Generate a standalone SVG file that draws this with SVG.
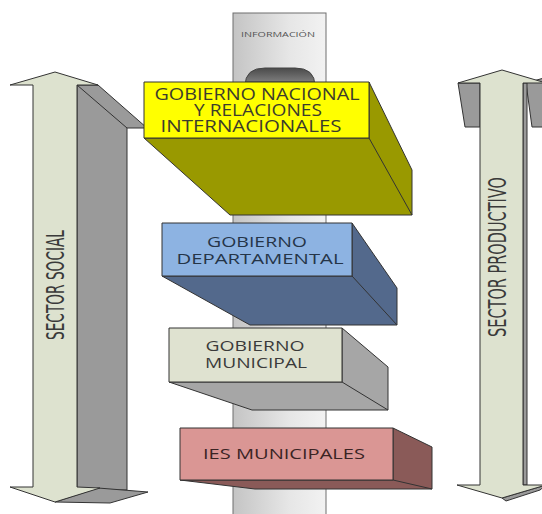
<svg xmlns="http://www.w3.org/2000/svg" width="542" height="514" viewBox="0 0 542 514">
<defs>
<linearGradient id="pole" x1="0" y1="0" x2="1" y2="0">
<stop offset="0" stop-color="#c4c4c4"/><stop offset="0.6" stop-color="#e6e6e6"/><stop offset="1" stop-color="#f2f2f2"/>
</linearGradient>
<linearGradient id="slot" x1="0" y1="0" x2="0" y2="1">
<stop offset="0" stop-color="#4a4a4a"/><stop offset="1" stop-color="#8c8c8c"/>
</linearGradient>
<style>
.edge{stroke:#333;stroke-width:1;stroke-linejoin:round}
.front{fill:#dde2cf}
.gray{fill:#9a9a9a}
.lbl{font-family:"Open Sans","DejaVu Sans",sans-serif;text-anchor:middle}
.sec{font-family:"DejaVu Sans",sans-serif;fill:#3a3a3a;text-anchor:middle}
</style>
</defs>
<rect width="542" height="514" fill="#ffffff"/>

<g id="pole-info">
<rect x="233" y="13" width="93" height="510" fill="url(#pole)" stroke="#6e6e6e" stroke-width="1"/>
<text x="278" y="37" class="lbl" font-size="8" fill="#555" textLength="74" lengthAdjust="spacingAndGlyphs">INFORMACIÓN</text>
<path d="M245,82 L245,86 Q245,68 265,68 L295,68 Q315,68 315,86 L315,82 Z" fill="url(#slot)" stroke="#444" stroke-width="1"/>
</g>

<g id="sector-social">
<polygon class="gray edge" points="77,85 98,85 147,128 127,128 127,490 77,490"/>
<line class="edge" x1="77" y1="85" x2="127" y2="128"/>
<polygon class="gray edge" points="98,488 148,492 110,503 55,502"/>
<polygon class="front edge" points="55,72 98,85 77,85 77,487 100,488 55,502 10,487 33,487 33,85 10,85"/>
<text class="sec" font-size="25" transform="translate(64,285) rotate(-90)" textLength="110" lengthAdjust="spacingAndGlyphs">SECTOR SOCIAL</text>
</g>

<g id="sector-productivo">
<polygon class="gray edge" points="458,83 480,83 480,127 465,127"/>
<polygon class="gray edge" points="526,83 544,78 544,127 532,127"/>
<rect class="gray edge" x="523" y="83" width="4" height="402"/>
<polygon class="gray edge" points="502,498 546,485 540,490 506,501"/>
<polygon class="front edge" points="502,70 546,83 523,83 523,485 546,485 502,498 457,485 480,485 480,83 458,83"/>
<text class="sec" font-size="24" transform="translate(506,257) rotate(-90)" textLength="160" lengthAdjust="spacingAndGlyphs">SECTOR PRODUCTIVO</text>
</g>

<g id="gobierno-nacional">
<polygon class="edge" fill="#999900" points="144,138 369,138 369,82 412,170 412,215 230,215"/>
<line class="edge" x1="369" y1="138" x2="412" y2="215"/>
<rect class="edge" x="144" y="82" width="225" height="56" fill="#ffff00"/>
<text class="lbl" font-size="16" fill="#3c3c2c" x="257" y="100" textLength="205" lengthAdjust="spacingAndGlyphs">GOBIERNO NACIONAL</text>
<text class="lbl" font-size="16" fill="#3c3c2c" x="258" y="116" textLength="128" lengthAdjust="spacingAndGlyphs">Y RELACIONES</text>
<text class="lbl" font-size="16" fill="#3c3c2c" x="251" y="132" textLength="181" lengthAdjust="spacingAndGlyphs">INTERNACIONALES</text>
</g>

<g id="gobierno-departamental">
<polygon class="edge" fill="#53698c" points="162,276 352,276 352,223 397,288 397,325 250,325"/>
<line class="edge" x1="352" y1="276" x2="397" y2="325"/>
<rect class="edge" x="162" y="223" width="190" height="53" fill="#8db3e2"/>
<text class="lbl" font-size="15" fill="#253548" x="257" y="247" textLength="100" lengthAdjust="spacingAndGlyphs">GOBIERNO</text>
<text class="lbl" font-size="15" fill="#253548" x="260" y="264" textLength="167" lengthAdjust="spacingAndGlyphs">DEPARTAMENTAL</text>
</g>

<g id="gobierno-municipal">
<polygon class="edge" fill="#a6a6a6" points="169,382 342,382 342,328 388,367 388,410 252,410"/>
<line class="edge" x1="342" y1="382" x2="388" y2="410"/>
<rect class="edge" x="169" y="328" width="173" height="54" fill="#dfe2d0"/>
<text class="lbl" font-size="15" fill="#3a3a3a" x="255" y="351" textLength="99" lengthAdjust="spacingAndGlyphs">GOBIERNO</text>
<text class="lbl" font-size="15" fill="#3a3a3a" x="256" y="368" textLength="102" lengthAdjust="spacingAndGlyphs">MUNICIPAL</text>
</g>

<g id="ies-municipales">
<polygon class="edge" fill="#8a5a58" points="180,480 393,480 393,428 432,447 432,489 255,489"/>
<line class="edge" x1="393" y1="480" x2="432" y2="489"/>
<rect class="edge" x="180" y="428" width="213" height="52" fill="#da9694"/>
<text class="lbl" font-size="15" fill="#3a2424" x="284" y="459" textLength="162" lengthAdjust="spacingAndGlyphs">IES MUNICIPALES</text>
</g>

<g id="connectors"></g>
</svg>
